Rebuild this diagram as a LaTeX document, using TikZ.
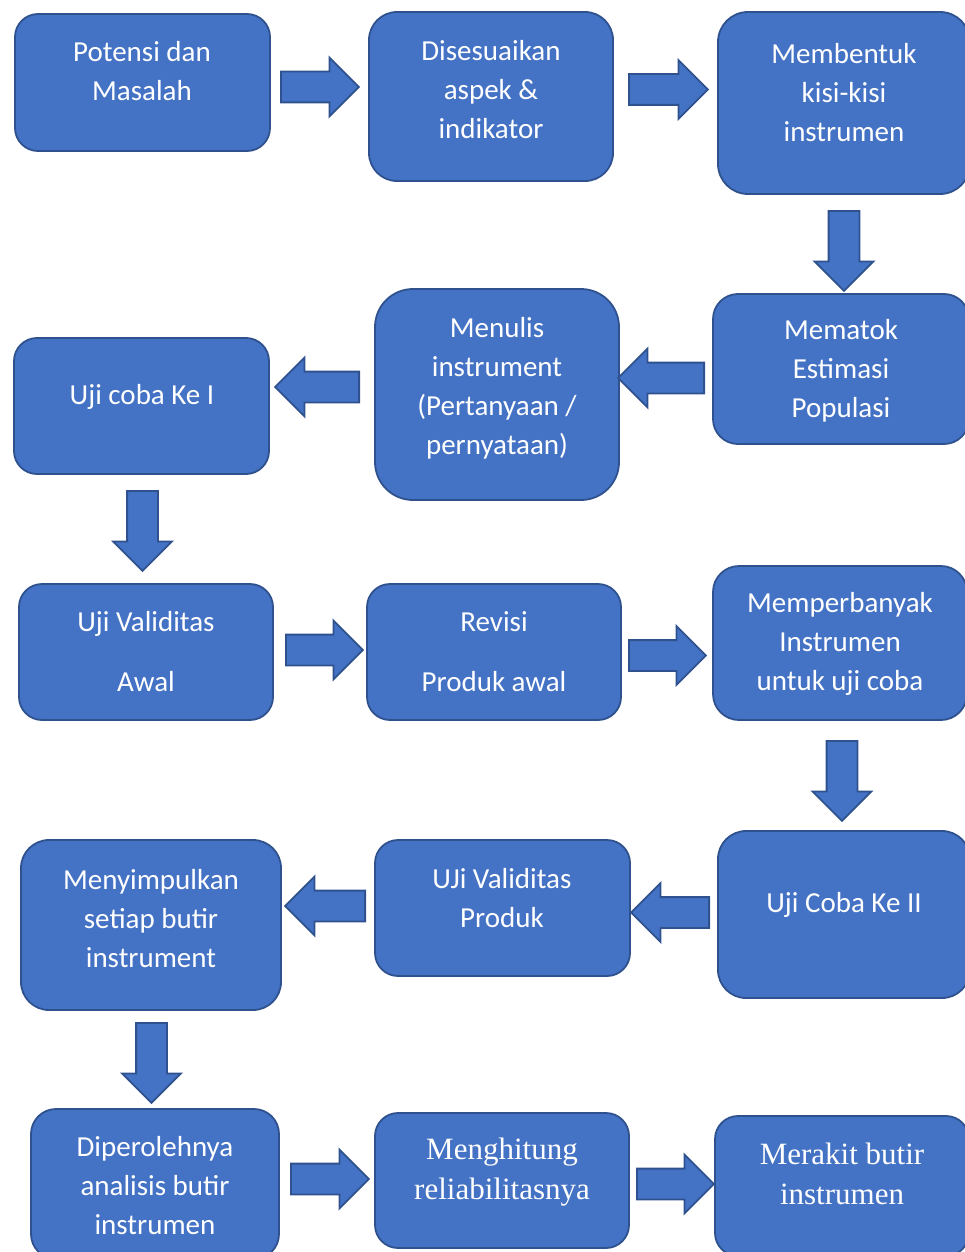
\documentclass[tikz,border=0pt]{standalone}
\usepackage{fontspec}
\setmainfont{Carlito}
\newfontfamily\timesfont{Liberation Serif}
\usetikzlibrary{shapes.arrows}
\definecolor{boxBlue}{HTML}{4472C4}
\definecolor{edgeBlue}{HTML}{2F528F}

\tikzset{
  stepbox/.style={rounded corners=23pt, fill=boxBlue, draw=edgeBlue, line width=1.8pt, inner sep=0pt},
  steptext/.style={text=white, align=center, inner sep=0pt, yshift=2pt, font=\fontsize{29}{39}\selectfont},
  serifText/.style={steptext, font=\timesfont\fontsize{31}{40}\selectfont},
  blockarrow/.style={single arrow, fill=boxBlue, draw=edgeBlue, line width=1.8pt,
    inner xsep=0pt, inner ysep=14.5pt, single arrow head extend=14pt, anchor=tail}
}

\begin{document}
\begin{tikzpicture}[x=1pt, y=-1pt]
\useasboundingbox (0,0) rectangle (965,1252);

% row 1
\node[stepbox, minimum width=255, minimum height=137] (b1) at (142.5,82.5) {};
\node[steptext] (t1) at (142,73) {Potensi dan\\Masalah};
\node[stepbox, rounded corners=28pt, minimum width=244, minimum height=169] (b2) at (491,96.5) {};
\node[steptext] (t2) at (491,92) {Disesuaikan\\aspek \&\\indikator};
\node[stepbox, rounded corners=30pt, minimum width=252, minimum height=182] (b3) at (844,103) {};
\node[steptext] (t3) at (844,95) {Membentuk\\kisi-kisi\\instrumen};

% row 2
\node[stepbox, rounded corners=25pt, minimum width=256, minimum height=150] (b4) at (841,369) {};
\node[steptext] (t4) at (841,373) {Mematok\\Estimasi\\Populasi};
\node[stepbox, rounded corners=38pt, minimum width=244, minimum height=211] (b5) at (497,394.5) {};
\node[steptext] (t5) at (497,390) {Menulis\\instrument\\(Pertanyaan /\\pernyataan)};
\node[stepbox, minimum width=255, minimum height=136] (b6) at (141.5,406) {};
\node[steptext] (t6) at (142,399) {Uji coba Ke I};

% row 3
\node[stepbox, minimum width=254, minimum height=136] (b7) at (146,652) {};
\node[steptext] (t7) at (146,654) {Uji Validitas\\[21pt]Awal};
\node[stepbox, minimum width=254, minimum height=136] (b8) at (494,652) {};
\node[steptext] (t8) at (494,654) {Revisi\\[21pt]Produk awal};
\node[stepbox, rounded corners=26pt, minimum width=254, minimum height=154] (b9) at (840,643) {};
\node[steptext] (t9) at (840,645.5) {Memperbanyak\\Instrumen\\untuk uji coba};

% row 4
\node[stepbox, rounded corners=28pt, minimum width=252, minimum height=167] (b10) at (844,914.5) {};
\node[steptext] (t10) at (844,907) {Uji Coba Ke II};
\node[stepbox, minimum width=255, minimum height=136] (b11) at (502.5,908) {};
\node[steptext] (t11) at (502,900) {UJi Validitas\\Produk};
\node[stepbox, rounded corners=28pt, minimum width=260, minimum height=170] (b12) at (151,925) {};
\node[steptext] (t12) at (151,920.5) {Menyimpulkan\\setiap butir\\instrument};

% row 5
\node[stepbox, rounded corners=25pt, minimum width=248, minimum height=150] (b13) at (155,1184) {};
\node[steptext] (t13) at (155,1188) {Diperolehnya\\analisis butir\\instrumen};
\node[stepbox, minimum width=254, minimum height=135] (b14) at (502,1180.5) {};
\node[serifText] (t14) at (502,1174) {Menghitung\\reliabilitasnya};
\node[stepbox, minimum width=254, minimum height=140] (b15) at (842,1186) {};
\node[serifText] (t15) at (842,1176) {Merakit butir\\instrumen};

% block arrows
\node[blockarrow, minimum height=78] (a1) at (280,87) {};
\node[blockarrow, minimum height=79] (a2) at (628,89.5) {};
\node[blockarrow, minimum height=80, rotate=-90] (a3) at (844,210) {};
\node[blockarrow, minimum height=86, rotate=180] (a4) at (705,378) {};
\node[blockarrow, minimum height=84, rotate=180] (a5) at (360,387) {};
\node[blockarrow, minimum height=80, rotate=-90] (a6) at (142.5,490) {};
\node[blockarrow, minimum height=77] (a7) at (285,650) {};
\node[blockarrow, minimum height=77] (a8) at (628,655.5) {};
\node[blockarrow, minimum height=80, rotate=-90] (a9) at (842,740) {};
\node[blockarrow, minimum height=78, rotate=180] (a10) at (710,912.5) {};
\node[blockarrow, minimum height=80, rotate=180] (a11) at (366,906) {};
\node[blockarrow, minimum height=80, rotate=-90] (a12) at (151.5,1022) {};
\node[blockarrow, minimum height=78] (a13) at (290,1179) {};
\node[blockarrow, minimum height=77] (a14) at (636,1184) {};
\end{tikzpicture}
\end{document}
